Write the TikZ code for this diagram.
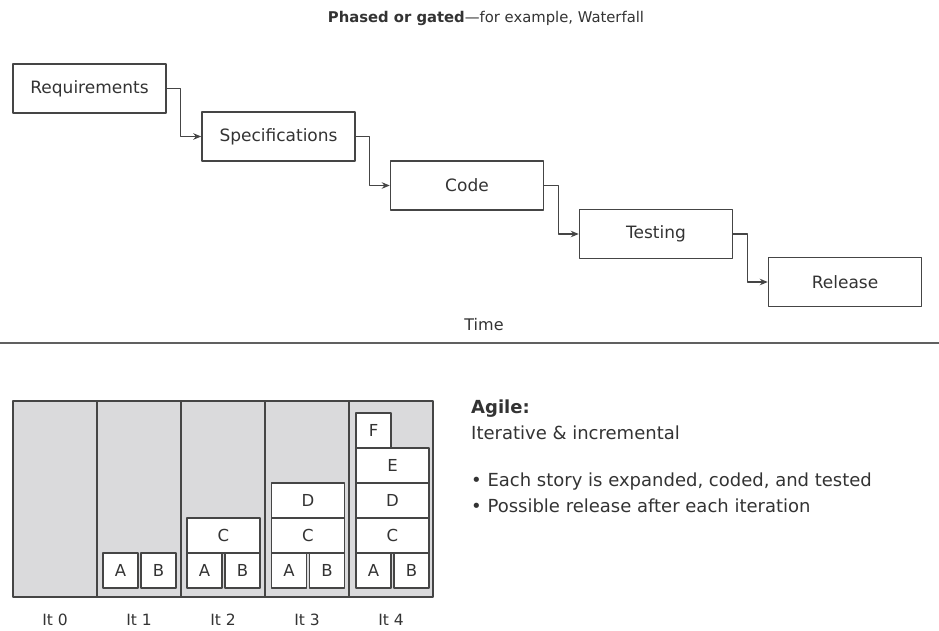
\documentclass[tikz,border=0pt]{standalone}
\usepackage{fontspec}
\setmainfont{DejaVu Sans}
\usetikzlibrary{arrows.meta}
\definecolor{ink}{HTML}{333333}
\definecolor{rule}{HTML}{454545}
\definecolor{panel}{HTML}{DADADC}
\begin{document}
\begin{tikzpicture}[x=1pt,y=-1pt,line cap=round,line join=round,>={Stealth[length=8pt,width=6.5pt]},
  phase/.style={draw=rule,line width=1.5pt,minimum width=153pt,minimum height=49pt,inner sep=0pt,
    font=\fontsize{17}{19}\selectfont,text=ink},
  conn/.style={->,draw=rule,line width=1.4pt},
  story/.style={draw=rule,fill=white,line width=1.5pt,minimum height=35pt,inner sep=0pt,
    font=\fontsize{16.5}{18}\selectfont,text=ink},
  half/.style={story,minimum width=35pt},
  wide/.style={story,minimum width=73pt},
  itlabel/.style={font=\fontsize{15.5}{17}\selectfont,text=ink},
  note/.style={anchor=west,inner sep=0pt,font=\fontsize{18}{20}\selectfont,text=ink}]
  \useasboundingbox (0,0) rectangle (939,630);

  % Waterfall
  \node[font=\fontsize{14.8}{16}\selectfont,text=ink] (title) at (486,18)
    {\textbf{Phased or gated}---for example, Waterfall};

  \node[phase] (req)  at (89.5,88.5)  {Requirements};
  \node[phase] (spec) at (278.5,136.5) {Specifications};
  \node[phase] (code) at (467,185.5)  {Code};
  \node[phase] (test) at (656,234)    {Testing};
  \node[phase] (rel)  at (845,282)    {Release};

  \draw[conn] (req.east)  -- ++(14,0) |- (spec.west);
  \draw[conn] (spec.east) -- ++(14,0) |- (code.west);
  \draw[conn] (code.east) -- ++(14,0) |- (test.west);
  \draw[conn] (test.east) -- ++(14,0) |- (rel.west);

  \node[itlabel,font=\fontsize{16}{18}\selectfont] (time) at (484,325) {Time};
  \draw[line width=2.2pt,gray!75!black] (0,343) -- (939,343);

  % Agile iterations
  \fill[panel] (13,401) rectangle (433,597);
  \draw[rule,line width=1.6pt] (13,401) rectangle (433,597);
  \draw[rule,line width=1.6pt] (97,401) -- (97,597);
  \draw[rule,line width=1.6pt] (181,401) -- (181,597);
  \draw[rule,line width=1.6pt] (265,401) -- (265,597);
  \draw[rule,line width=1.6pt] (349,401) -- (349,597);

  \node[half] (a1) at (120.5,570.5) {A};
  \node[half] (b1) at (158.5,570.5) {B};

  \node[half] (a2) at (204.5,570.5) {A};
  \node[half] (b2) at (242.5,570.5) {B};
  \node[wide] (c2) at (223.5,535.5) {C};

  \node[half] (a3) at (289,570.5) {A};
  \node[half] (b3) at (327,570.5) {B};
  \node[wide] (c3) at (308,535.5) {C};
  \node[wide] (d3) at (308,500.5) {D};

  \node[half] (a4) at (373.5,570.5) {A};
  \node[half] (b4) at (411.5,570.5) {B};
  \node[wide] (c4) at (392.5,535.5) {C};
  \node[wide] (d4) at (392.5,500.5) {D};
  \node[wide] (e4) at (392.5,465.5) {E};
  \node[half] (f4) at (373.5,430.5) {F};

  \node[itlabel] (it0) at (55,620)  {It 0};
  \node[itlabel] (it1) at (139,620) {It 1};
  \node[itlabel] (it2) at (223,620) {It 2};
  \node[itlabel] (it3) at (307,620) {It 3};
  \node[itlabel] (it4) at (391,620) {It 4};

  % Notes
  \node[note] (agile) at (471,409) {\textbf{Agile:}};
  \node[note] (iter)  at (471,433) {Iterative \& incremental};
  \node[note] (pt1)   at (471,482) {• Each story is expanded, coded, and tested};
  \node[note] (pt2)   at (471,506) {• Possible release after each iteration};
\end{tikzpicture}
\end{document}
